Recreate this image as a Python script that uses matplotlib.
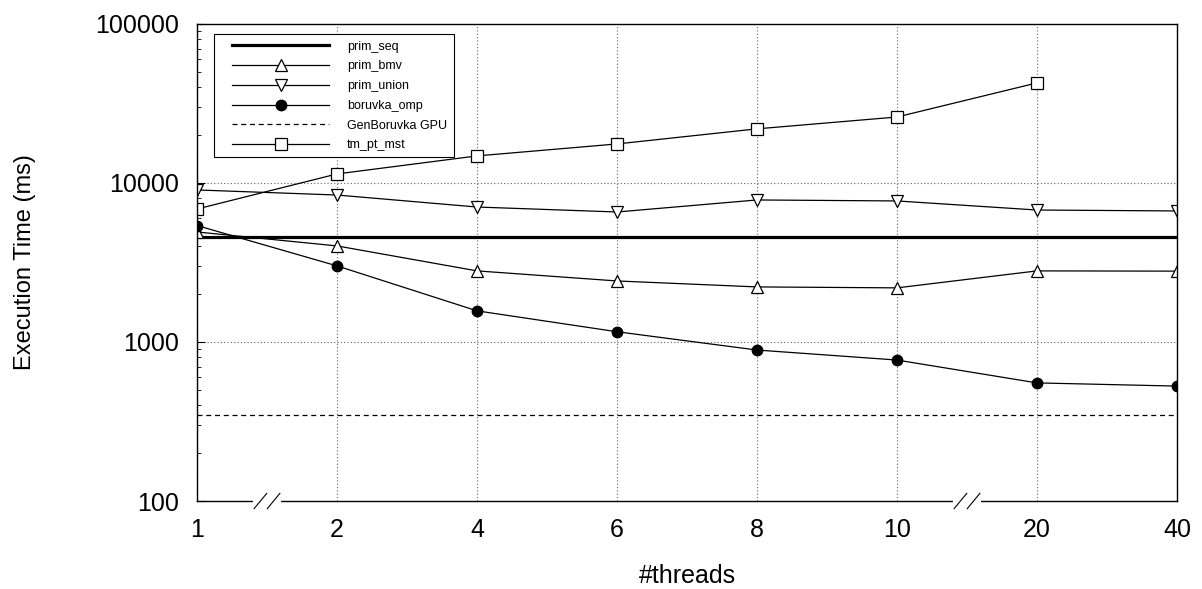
import matplotlib.pyplot as plt
import matplotlib.transforms as mtransforms
from matplotlib.patches import Rectangle
from matplotlib.ticker import LogLocator, NullFormatter, FixedLocator

threads = ['1', '2', '4', '6', '8', '10', '20', '40']

prim_seq = 4600
gen_boruvka_gpu = 348
prim_bmv = [4920, 4020, 2800, 2420, 2220, 2190, 2800, 2790]
prim_union = [9040, 8400, 7060, 6570, 7820, 7710, 6760, 6670]
boruvka_omp = [5400, 3010, 1570, 1160, 890, 770, 553, 528]
tm_pt_mst = [6860, 11400, 14800, 17600, 21900, 26000, 42600]

plt.rcParams['font.family'] = ['Liberation Sans', 'DejaVu Sans']

fig = plt.figure(figsize=(12.02, 5.89), dpi=100)
ax = fig.add_axes([0.1639, 0.1494, 0.8153, 0.8099])

x = list(range(len(threads)))

ax.plot([x[0], x[-1]], [prim_seq, prim_seq], color='black', lw=2.3, label='prim_seq')
ax.plot(x, prim_bmv, color='black', lw=0.9, marker='^', ms=8.5,
        mfc='white', mec='black', mew=0.9, label='prim_bmv')
ax.plot(x, prim_union, color='black', lw=0.9, marker='v', ms=8.5,
        mfc='white', mec='black', mew=0.9, label='prim_union')
ax.plot(x, boruvka_omp, color='black', lw=0.9, marker='o', ms=7.5,
        mfc='black', mec='black', label='boruvka_omp')
ax.plot([x[0], x[-1]], [gen_boruvka_gpu, gen_boruvka_gpu], color='black', lw=0.9,
        ls=(0, (4, 3)), label='GenBoruvka GPU')
ax.plot(x[:len(tm_pt_mst)], tm_pt_mst, color='black', lw=0.9, marker='s', ms=8.5,
        mfc='white', mec='black', mew=0.9, label='tm_pt_mst')

ax.set_yscale('log')
ax.set_ylim(100, 100000)
ax.set_xlim(x[0], x[-1])
ax.set_xticks(x)
ax.set_xticklabels(threads)
ax.yaxis.set_major_locator(FixedLocator([100, 1000, 10000, 100000]))
ax.set_yticklabels(['100', '1000', '10000', '100000'])
ax.yaxis.set_minor_locator(LogLocator(base=10, subs=range(2, 10)))
ax.yaxis.set_minor_formatter(NullFormatter())

ax.tick_params(axis='x', length=0, labelsize=18, pad=12)
ax.tick_params(axis='y', which='major', direction='in', length=6, width=0.8, labelsize=18, pad=13)
ax.tick_params(axis='y', which='minor', direction='in', length=3, width=0.6)

ax.grid(True, which='major', color='#666666', ls=(0, (1, 2)), lw=0.8)
for s in ax.spines.values():
    s.set_linewidth(1.0)

ax.set_xlabel('#threads', fontsize=18, labelpad=16)
ax.set_ylabel('Execution Time (ms)', fontsize=17)
ax.yaxis.set_label_coords(-0.164, 0.5)

# axis break marks between 1-2 and 10-20
trans = mtransforms.blended_transform_factory(ax.transData, ax.transAxes)
for xb in [0.5, 5.5]:
    ax.plot([xb - 0.085, xb + 0.085], [0, 0], color='white', lw=3, transform=trans,
            clip_on=False, zorder=5)
    for dx in [-0.047, 0.047]:
        ax.plot([xb + dx - 0.045, xb + dx + 0.045], [-0.016, 0.016], color='black',
                lw=0.8, transform=trans, clip_on=False, zorder=6)

# legend with a hand-placed frame (wide side padding)
ax.add_patch(Rectangle((0.0173, 0.7212), 0.245, 0.258, transform=ax.transAxes,
                       facecolor='white', edgecolor='black', lw=0.8, zorder=4))
leg = ax.legend(loc='upper left', bbox_to_anchor=(0.0357, 0.965), borderaxespad=0,
                fontsize=9, handlelength=7.8, handletextpad=1.4, labelspacing=0.62,
                borderpad=0, frameon=False)
leg.set_zorder(5)
for h in leg.legend_handles:
    if hasattr(h, 'set_markevery'):
        h.set_markevery([1])

fig.savefig('out.png', dpi=100)
